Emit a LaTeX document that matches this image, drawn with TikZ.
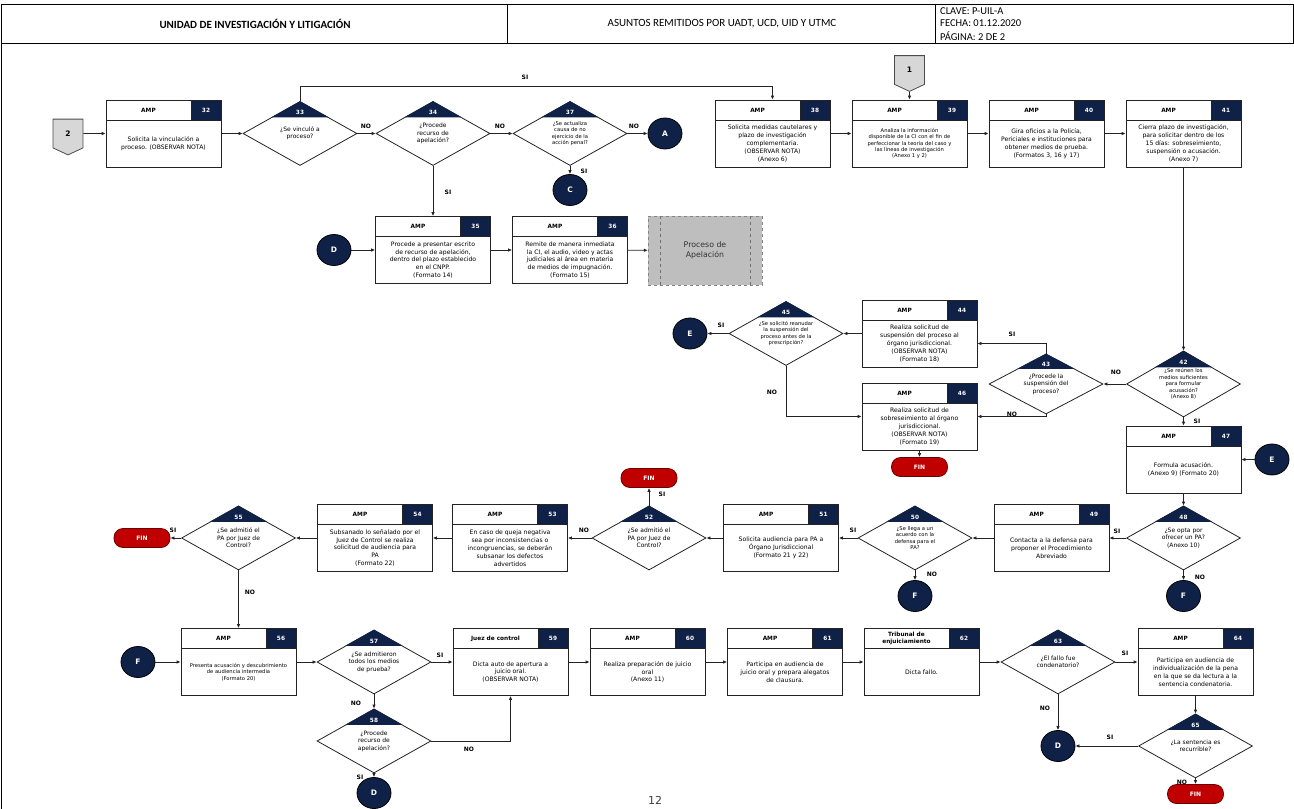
\documentclass[tikz,border=0pt]{standalone}
\usepackage{fontspec}
\setmainfont{DejaVu Sans}
\newfontfamily\headfont{Carlito}
\usetikzlibrary{positioning,calc,arrows.meta,shapes.geometric,shapes.symbols}

\definecolor{navy}{RGB}{16,33,72}
\definecolor{finred}{RGB}{192,0,0}
\definecolor{findark}{RGB}{110,0,0}
\definecolor{linegray}{RGB}{35,35,35}
\definecolor{pentgray}{RGB}{215,215,215}
\definecolor{procgray}{RGB}{190,190,190}

\tikzset{
  boxframe/.style={draw=linegray, line width=0.8pt, fill=white, minimum width=115pt, minimum height=67pt, inner sep=0pt},
  headcell/.style={draw=linegray, line width=0.8pt, minimum width=85pt, minimum height=20pt, inner sep=0pt, align=center, font=\fontsize{5.8}{6.4}\selectfont\bfseries},
  numcell/.style={draw=linegray, fill=navy, line width=0.8pt, minimum width=30pt, minimum height=20pt, inner sep=0pt, text=white, font=\fontsize{5.8}{6.6}\selectfont\bfseries},
  bodytext/.style={align=center, inner sep=0pt, font=\fontsize{6.1}{7.9}\selectfont},
  decision/.style={diamond, draw=linegray, line width=0.8pt, fill=white, minimum width=114pt, minimum height=64pt, inner sep=0pt, shape aspect=1.78, align=center, font=\fontsize{6}{7.4}\selectfont},
  decnum/.style={text=white, inner sep=0pt, font=\fontsize{5.8}{6.6}\selectfont\bfseries},
  conn/.style={ellipse, draw=black, line width=0.8pt, fill=navy, text=white, minimum width=34pt, minimum height=31pt, inner sep=0pt, font=\fontsize{7.5}{8}\selectfont\bfseries},
  fin/.style={draw=findark, line width=0.8pt, fill=finred, rounded corners=9pt, minimum width=56pt, minimum height=19pt, inner sep=0pt, text=white, font=\fontsize{6}{6.6}\selectfont\bfseries},
  offpage/.style={signal, signal to=south, signal pointer angle=130, draw=black!70, line width=0.8pt, fill=pentgray, minimum width=30pt, minimum height=30pt, inner sep=0pt, font=\fontsize{7.5}{8}\selectfont\bfseries},
  proc/.style={draw=procgray!70!black, dashed, fill=procgray, minimum width=114pt, minimum height=69pt, inner sep=0pt, align=center, text=black!80, font=\fontsize{7.8}{9.4}\selectfont},
  arr/.style={draw=linegray, line width=0.9pt, -{Latex[length=4pt,width=3.6pt]}},
  lbl/.style={inner sep=0pt, font=\fontsize{6}{6.6}\selectfont\bfseries},
  smalltext/.style={font=\fontsize{5.2}{6.4}\selectfont}
}

% caja de actividad: nombre, x, y, responsable, numero, texto
\newcommand{\ampbox}[7][]{%
  \node[boxframe] (#2) at (#3,#4) {};
  \node[headcell, anchor=north west] (#2h) at (#2.north west) {#5};
  \node[numcell, anchor=north east] (#2n) at (#2.north east) {#6};
  \node[bodytext,#1] (#2t) at ([yshift=-10pt]#2.center) {#7};
}
% rombo de decision: nombre, x, y, numero, pregunta
\newcommand{\askbox}[6][]{%
  \node[decision,#1] (#2) at (#3,#4) {#6};
  \fill[navy] (#2.north) -- ($(#2.north)!0.5!(#2.west)$) -- ($(#2.north)!0.5!(#2.east)$) -- cycle;
  \node[decnum] (#2n) at ($(#2.north)!0.36!(#2.center)$) {#5};
}

\begin{document}
\begin{tikzpicture}[x=1pt,y=-1pt]
\useasboundingbox (0,0) rectangle (1294,809);
% encabezado
\draw[line width=0.8pt] (1,4) rectangle (1293,43);
\draw[line width=0.8pt] (507,4) -- (507,43) (935,4) -- (935,43);
\draw[line width=0.8pt] (1,43) -- (1,809);
\node[font=\headfont\fontsize{11}{12}\selectfont\bfseries] (unidad) at (255,24) {UNIDAD DE INVESTIGACIÓN Y LITIGACIÓN};
\node[font=\headfont\fontsize{11}{12}\selectfont] (asuntos) at (722,24) {ASUNTOS REMITIDOS POR UADT, UCD, UID Y UTMC};
\node[font=\headfont\fontsize{10.5}{12}\selectfont, anchor=west, inner sep=0pt] (clave) at (940,11) {CLAVE: P-UIL-A};
\node[font=\headfont\fontsize{10.5}{12}\selectfont, anchor=west, inner sep=0pt] (fecha) at (940,23.5) {FECHA: 01.12.2020};
\node[font=\headfont\fontsize{10.5}{12}\selectfont, anchor=west, inner sep=0pt] (pagina) at (940,36) {PÁGINA: 2 DE 2};

% fila 1
\node[offpage] (p2) at (68,133.5) {2};
\ampbox{b32}{163.5}{133.5}{AMP}{32}{Solicita la vinculación a\\proceso. (OBSERVAR NOTA)}
\askbox{d33}{300}{133.5}{33}{¿Se vinculó a\\proceso?}
\askbox{d34}{433}{133.5}{34}{¿Procede\\recurso de\\apelación?}
\askbox[smalltext]{d37}{570}{133.5}{37}{¿Se actualiza\\causa de no\\ejercicio de la\\acción penal?}
\node[conn] (cA) at (665,133.5) {A};
\node[conn] (cC) at (570,190) {C};
\node[offpage] (p1) at (909.5,70) {1};
\ampbox{b38}{772.5}{133.5}{AMP}{38}{Solicita medidas cautelares y\\plazo de investigación\\complementaria.\\(OBSERVAR NOTA)\\(Anexo 6)}
\ampbox[smalltext]{b39}{909.5}{133.5}{AMP}{39}{Analiza la información\\disponible de la CI con el fin de\\perfeccionar la teoría del caso y\\las líneas de investigación\\(Anexo 1 y 2)}
\ampbox{b40}{1046.5}{133.5}{AMP}{40}{Gira oficios a la Policía,\\Periciales e instituciones para\\obtener medios de prueba.\\(Formatos 3, 16 y 17)}
\ampbox{b41}{1183.5}{133.5}{AMP}{41}{Cierra plazo de investigación,\\para solicitar dentro de los\\15 días: sobreseimiento,\\suspensión o acusación.\\(Anexo 7)}

% fila 2
\node[conn] (cD1) at (334,250) {D};
\ampbox{b35}{433}{250}{AMP}{35}{Procede a presentar escrito\\de recurso de apelación,\\dentro del plazo establecido\\en el CNPP.\\(Formato 14)}
\ampbox{b36}{570}{250}{AMP}{36}{Remite de manera inmediata\\la CI, el audio, video y actas\\judiciales al área en materia\\de medios de impugnación.\\(Formato 15)}
\node[proc] (apel) at (705,250.5) {Proceso de\\Apelación};
\draw[procgray!60!black, dashed] ([xshift=12pt]apel.north west) -- ([xshift=12pt]apel.south west);
\draw[procgray!60!black, dashed] ([xshift=-12pt]apel.north east) -- ([xshift=-12pt]apel.south east);

% suspension o sobreseimiento
\ampbox{b44}{919.5}{333.5}{AMP}{44}{Realiza solicitud de\\suspensión del proceso al\\órgano jurisdiccional.\\(OBSERVAR NOTA)\\(Formato 18)}
\ampbox{b46}{919.5}{416.5}{AMP}{46}{Realiza solicitud de\\sobreseimiento al órgano\\jurisdiccional.\\(OBSERVAR NOTA)\\(Formato 19)}
\askbox[smalltext]{d45}{786}{333.5}{45}{¿Se solicitó reanudar\\la suspensión del\\proceso antes de la\\prescripción?}
\node[conn] (cE1) at (690,333.5) {E};
\node[fin] (fin1) at (919.5,467) {FIN};
\askbox[smalltext, minimum height=66pt]{d42}{1183.5}{384}{42}{¿Se reúnen los\\medios suficientes\\para formular\\acusación?\\(Anexo 8)}
\askbox[minimum height=60pt]{d43}{1046}{384}{43}{¿Procede la\\suspensión del\\proceso?}
\ampbox{b47}{1183.5}{459.5}{AMP}{47}{Formula acusación.\\(Anexo 9) (Formato 20)}
\node[conn] (cE2) at (1272,459.5) {E};

% fila 3
\askbox{d48}{1183.5}{538}{48}{¿Se opta por\\ofrecer un PA?\\(Anexo 10)}
\node[conn] (cF1) at (1183.5,596) {F};
\ampbox{b49}{1051.5}{538}{AMP}{49}{Contacta a la defensa para\\proponer el Procedimiento\\Abreviado}
\askbox[smalltext]{d50}{915}{538}{50}{¿Se llega a un\\acuerdo con la\\defensa para el\\PA?}
\node[conn] (cF2) at (915,596) {F};
\ampbox{b51}{781}{538}{AMP}{51}{Solicita audiencia para PA a\\Órgano Jurisdiccional\\(Formato 21 y 22)}
\askbox{d52}{649}{538}{52}{¿Se admitió el\\PA por Juez de\\Control?}
\node[fin] (fin2) at (649,478) {FIN};
\ampbox{b53}{510}{538}{AMP}{53}{En caso de queja negativa\\sea por inconsistencias o\\incongruencias, se deberán\\subsanar los defectos\\advertidos}
\ampbox{b54}{375}{538}{AMP}{54}{Subsanado lo señalado por el\\Juez de Control se realiza\\solicitud de audiencia para\\PA\\(Formato 22)}
\askbox{d55}{238.5}{538}{55}{¿Se admitió el\\PA por Juez de\\Control?}
\node[fin] (fin3) at (142,538) {FIN};

% fila 4
\node[conn] (cF3) at (138,662) {F};
\ampbox[smalltext]{b56}{238.5}{662}{AMP}{56}{Presenta acusación y descubrimiento\\de audiencia intermedia\\(Formato 20)}
\askbox{d57}{374}{662}{57}{¿Se admitieron\\todos los medios\\de prueba?}
\askbox{d58}{374}{741}{58}{¿Procede\\recurso de\\apelación?}
\node[conn] (cD2) at (374,793) {D};
\ampbox{b59}{510.5}{662}{Juez de control}{59}{Dicta auto de apertura a\\juicio oral.\\(OBSERVAR NOTA)}
\ampbox{b60}{647.5}{662}{AMP}{60}{Realiza preparación de juicio\\oral\\(Anexo 11)}
\ampbox{b61}{785}{662}{AMP}{61}{Participa en audiencia de\\juicio oral y prepara alegatos\\de clausura.}
\ampbox{b62}{921.5}{662}{Tribunal de\\enjuiciamiento}{62}{Dicta fallo.}
\askbox{d63}{1058}{662}{63}{¿El fallo fue\\condenatorio?}
\node[conn] (cD3) at (1058,746) {D};
\ampbox{b64}{1195.5}{662}{AMP}{64}{Participa en audiencia de\\individualización de la pena\\en la que se da lectura a la\\sentencia condenatoria.}
\askbox{d65}{1195.5}{746}{65}{¿La sentencia es\\recurrible?}
\node[fin] (fin4) at (1195.5,794) {FIN};

% conectores
\draw[arr] (p2) -- (b32);
\draw[arr] (b32) -- (d33);
\draw[arr] (d33) -- (d34);
\draw[arr] (d34) -- (d37);
\draw[arr] (d37) -- (cA);
\draw[arr] (d37) -- (cC);
\draw[arr] (d34) -- (b35);
\draw[arr] (d33.north) -- ++(0,-15) -| (b38.north);
\draw[arr] (cD1) -- (b35);
\draw[arr] (b35) -- (b36);
\draw[arr] (b36) -- (apel);
\draw[arr] (p1) -- (b39);
\foreach \a/\b in {b38/b39, b39/b40, b40/b41}
  \draw[arr] (\a) -- (\b);
\draw[arr] (b41) -- (d42);
\draw[arr] (d42) -- (d43);
\draw[arr] (d42) -- (b47);
\draw[arr] (d43.north) |- ([yshift=-10pt]b44.east);
\draw[arr] (d43.south) |- (b46.east);
\draw[arr] (b44) -- (d45);
\draw[arr] (d45) -- (cE1);
\draw[arr] (d45.south) |- (b46.west);
\draw[arr] (b46) -- (fin1);
\draw[arr] (cE2) -- (b47);
\draw[arr] (b47) -- (d48);
\draw[arr] (d48) -- (cF1);
\foreach \a/\b in {d48/b49, b49/d50, d50/b51, b51/d52, d52/b53, b53/b54, b54/d55, d55/fin3}
  \draw[arr] (\a) -- (\b);
\draw[arr] (d50) -- (cF2);
\draw[arr] (d52) -- (fin2);
\draw[arr] (d55) -- (b56);
\draw[arr] (cF3) -- (b56);
\foreach \a/\b in {b56/d57, d57/b59, b59/b60, b60/b61, b61/b62, b62/d63, d63/b64}
  \draw[arr] (\a) -- (\b);
\draw[arr] (d57) -- (d58);
\draw[arr] (d58.east) -| (b59.south);
\draw[arr] (d58) -- (cD2);
\draw[arr] (d63) -- (cD3);
\draw[arr] (b64) -- (d65);
\draw[arr] (d65) -- (cD3);
\draw[arr] (d65) -- (fin4);

% etiquetas SI / NO
\node[lbl] (l1) at (525,77) {SI};
\node[lbl] (l2) at (366,126) {NO};
\node[lbl] (l3) at (500,126) {NO};
\node[lbl] (l4) at (634,126) {NO};
\node[lbl] (l5) at (584,171) {SI};
\node[lbl] (l6) at (448,192) {SI};
\node[lbl] (l7) at (1116,372) {NO};
\node[lbl] (l8) at (1197,421) {SI};
\node[lbl] (l9) at (1012,334) {SI};
\node[lbl] (l10) at (1012,414) {NO};
\node[lbl] (l11) at (721,325) {SI};
\node[lbl] (l12) at (772,392) {NO};
\node[lbl] (l13) at (1200,577) {NO};
\node[lbl] (l14) at (1117,531) {SI};
\node[lbl] (l15) at (932,574) {NO};
\node[lbl] (l16) at (853,530) {SI};
\node[lbl] (l17) at (662,494) {SI};
\node[lbl] (l18) at (584,530) {NO};
\node[lbl] (l19) at (173,530) {SI};
\node[lbl] (l20) at (250,592) {NO};
\node[lbl] (l21) at (440,655) {SI};
\node[lbl] (l22) at (356,703) {NO};
\node[lbl] (l23) at (469,749) {NO};
\node[lbl] (l24) at (360,777) {SI};
\node[lbl] (l25) at (1125,653) {SI};
\node[lbl] (l26) at (1045,708) {NO};
\node[lbl] (l27) at (1110,737) {SI};
\node[lbl] (l28) at (1182,782) {NO};

\node[font=\fontsize{11}{12}\selectfont, text=black!75] (pag) at (655,800) {12};
\end{tikzpicture}
\end{document}
